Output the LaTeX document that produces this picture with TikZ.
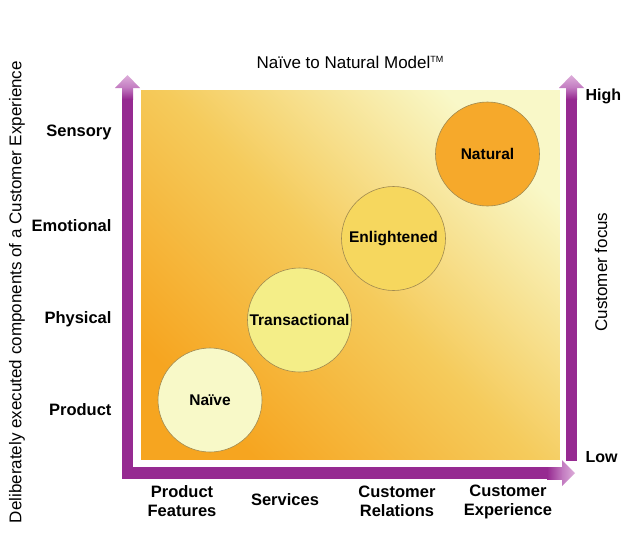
\documentclass[tikz,border=0pt]{standalone}
\usepackage{fontspec}
\setmainfont{Liberation Sans}
\definecolor{purp}{HTML}{962A91}
\definecolor{purplt}{HTML}{DDAEDA}
\definecolor{purpmd}{HTML}{C27AC0}
\definecolor{bgA}{HTML}{F6A520}
\definecolor{bgB}{HTML}{F5CB5C}
\definecolor{bgC}{HTML}{F9F8C8}
\definecolor{cNaive}{HTML}{F8F9C8}
\definecolor{cTrans}{HTML}{F4EE88}
\definecolor{cEnl}{HTML}{F6D75E}
\definecolor{cNat}{HTML}{F6A92B}
\definecolor{cEdge}{HTML}{A08A50}
\pgfdeclarehorizontalshading{bgsh}{100bp}{color(0bp)=(bgA); color(25bp)=(bgA); color(50bp)=(bgB); color(75bp)=(bgC); color(100bp)=(bgC)}
\tikzset{
  stage/.style={circle, draw=cEdge, line width=0.6pt, minimum size=104pt, inner sep=0pt,
    font=\fontsize{15.5}{18}\selectfont\bfseries},
  ylab/.style={anchor=east, font=\fontsize{16.5}{19}\selectfont\bfseries},
  xlab/.style={align=center, font=\fontsize{16.5}{19}\selectfont\bfseries},
  rlab/.style={anchor=west, font=\fontsize{16}{18}\selectfont\bfseries},
  plain/.style={font=\fontsize{17}{20}\selectfont},
}
\begin{document}
\begin{tikzpicture}[x=1pt,y=-1pt]
\useasboundingbox (0,0) rectangle (630,552);
% background
\shade[shading=bgsh, shading angle=45, draw=white, line width=1.5pt] (140,89) rectangle (561,461);
% left axis
\fill[purp] (122,98) rectangle (133,479);
\fill[purp] (122,467) rectangle (548,479);
\shade[top color=purpmd, bottom color=purp] (122,87.5) rectangle (133,99);
\shade[top color=purplt, bottom color=purpmd] (115,88) -- (127.5,75) -- (140,88) -- cycle;
% bottom axis head
\shade[left color=purp, right color=purpmd] (547,467) rectangle (562.5,479);
\shade[left color=purpmd, right color=purplt] (562,460) -- (575,473) -- (562,486) -- cycle;
% right axis
\fill[purp] (566,98) rectangle (577,461);
\shade[top color=purpmd, bottom color=purp] (566,87.5) rectangle (577,99);
\shade[top color=purplt, bottom color=purpmd] (559,88) -- (571.5,75) -- (584,88) -- cycle;
% stages
\node[stage, fill=cNaive] (naive) at (210,400) {Naïve};
\node[stage, fill=cTrans] (trans) at (299.5,320) {Transactional};
\node[stage, fill=cEnl] (enl) at (393.5,238.5) {Enlightened};
\node[stage, fill=cNat] (nat) at (487.5,154) {Natural};
% y labels
\node[ylab] (sens) at (115,132) {Sensory};
\node[ylab] (emo) at (115,226) {Emotional};
\node[ylab] (phys) at (115,319) {Physical};
\node[ylab] (prod) at (115,410) {Product};
% x labels
\node[xlab] (pf) at (182,501.5) {Product\\Features};
\node[xlab] (serv) at (285,500) {Services};
\node[xlab] (cr) at (397,501.5) {Customer\\Relations};
\node[xlab] (ce) at (508,501.5) {Customer\\Experience};
% right labels
\node[rlab] (high) at (582,96) {High};
\node[rlab] (low) at (582,457) {Low};
\node[plain, rotate=90] (cf) at (601,272) {Customer focus};
% titles
\node[plain] (title) at (350,62) {Naïve to Natural Model\raisebox{6pt}{\fontsize{9}{9}\selectfont TM}};
\node[plain, rotate=90] (ytitle) at (17,292) {Deliberately executed components of a Customer Experience};
\end{tikzpicture}
\end{document}
